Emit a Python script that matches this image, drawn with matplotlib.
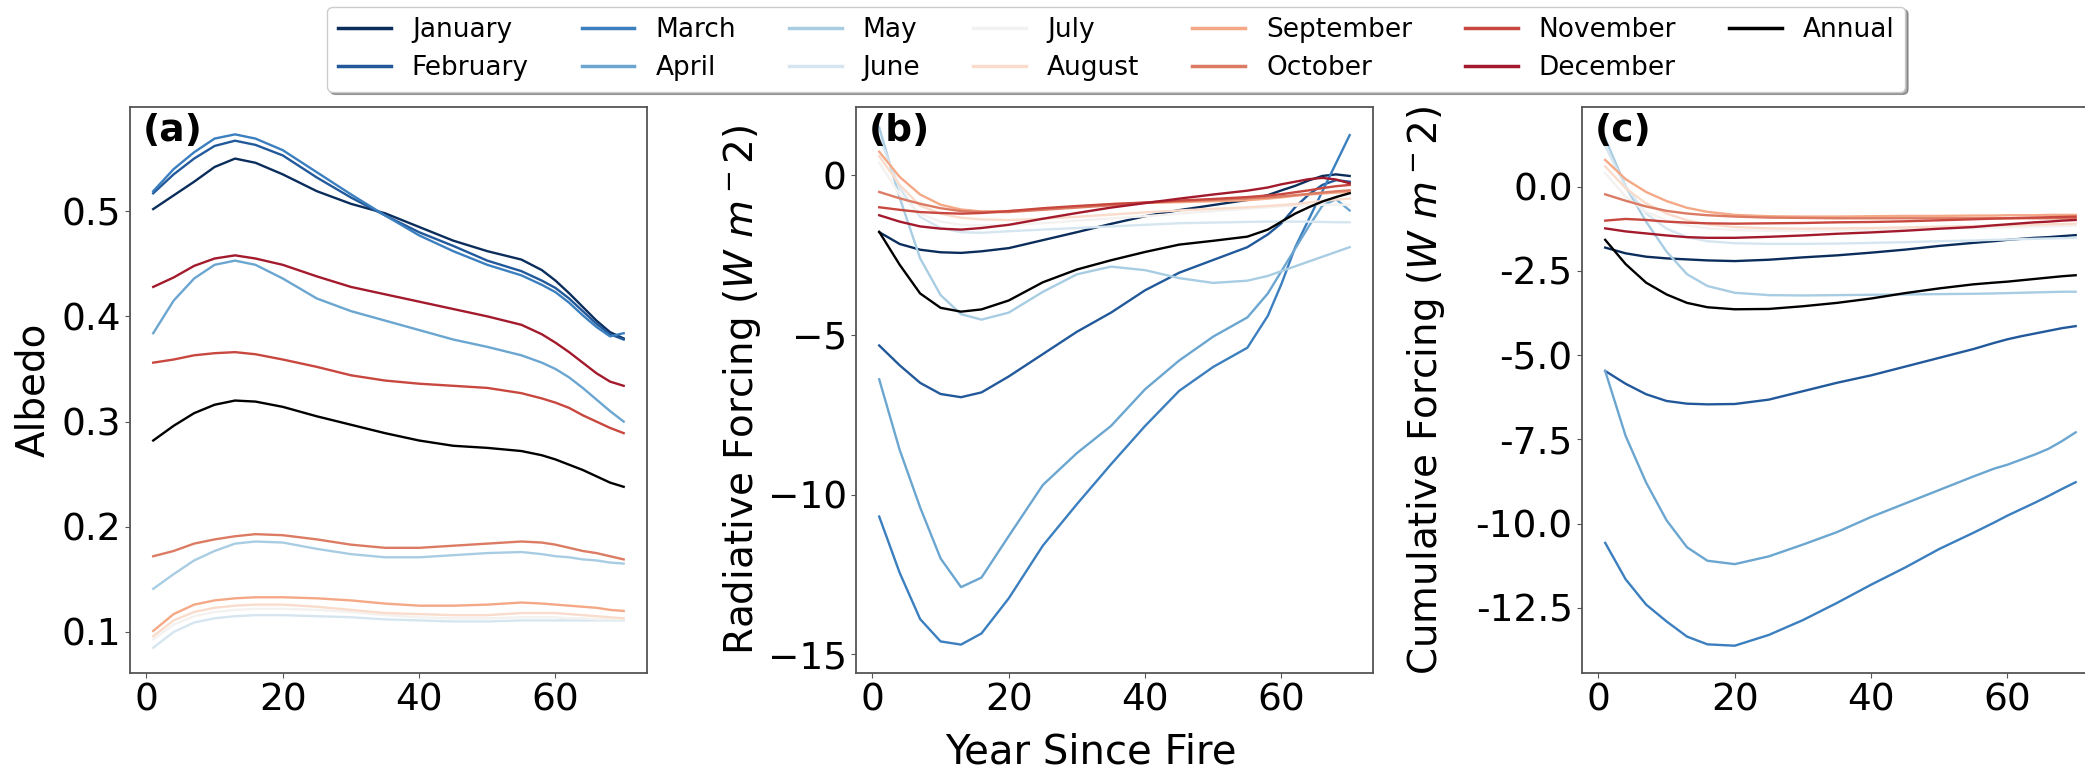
import numpy as np
import matplotlib.pyplot as plt

# years since fire (sample points)
years = [1, 4, 7, 10, 13, 16, 20, 25, 30, 35, 40, 45, 50, 55, 58, 60, 62, 64, 66, 68, 70]

labels = ['January', 'February', 'March', 'April', 'May', 'June', 'July',
          'August', 'September', 'October', 'November', 'December', 'Annual']
colors = ['#0b2d5c', '#22599b', '#3b7fbf', '#6ba6d0', '#a8cde3', '#d5e6f0', '#f4f2f0',
          '#f9dccb', '#f4a886', '#dc7b63', '#c8473f', '#a31a2d', '#000000']

# (a) albedo
alb_jan = [0.502, 0.515, 0.528, 0.542, 0.550, 0.546, 0.535, 0.519, 0.507, 0.498, 0.485, 0.472, 0.462, 0.454, 0.444, 0.434, 0.422, 0.409, 0.396, 0.385, 0.379]
alb_feb = [0.517, 0.535, 0.550, 0.562, 0.567, 0.563, 0.553, 0.532, 0.513, 0.496, 0.480, 0.467, 0.453, 0.443, 0.434, 0.427, 0.417, 0.405, 0.393, 0.383, 0.378]
alb_mar = [0.519, 0.540, 0.556, 0.569, 0.573, 0.569, 0.558, 0.537, 0.516, 0.496, 0.477, 0.462, 0.449, 0.439, 0.430, 0.423, 0.413, 0.401, 0.390, 0.381, 0.384]
alb_apr = [0.384, 0.415, 0.436, 0.449, 0.453, 0.449, 0.436, 0.417, 0.405, 0.396, 0.387, 0.378, 0.371, 0.363, 0.356, 0.350, 0.342, 0.332, 0.321, 0.310, 0.300]
alb_may = [0.141, 0.155, 0.168, 0.177, 0.184, 0.186, 0.185, 0.179, 0.174, 0.171, 0.171, 0.173, 0.175, 0.176, 0.174, 0.172, 0.171, 0.169, 0.168, 0.166, 0.165]
alb_jun = [0.085, 0.100, 0.109, 0.113, 0.115, 0.116, 0.116, 0.115, 0.114, 0.112, 0.111, 0.110, 0.110, 0.111, 0.111, 0.111, 0.111, 0.111, 0.111, 0.111, 0.111]
alb_jul = [0.093, 0.107, 0.115, 0.119, 0.121, 0.122, 0.122, 0.121, 0.119, 0.116, 0.114, 0.113, 0.113, 0.114, 0.114, 0.114, 0.113, 0.113, 0.112, 0.112, 0.112]
alb_aug = [0.096, 0.111, 0.119, 0.123, 0.125, 0.126, 0.126, 0.124, 0.121, 0.118, 0.117, 0.116, 0.116, 0.118, 0.118, 0.118, 0.117, 0.116, 0.115, 0.114, 0.113]
alb_sep = [0.101, 0.117, 0.126, 0.130, 0.132, 0.133, 0.133, 0.132, 0.130, 0.127, 0.125, 0.125, 0.126, 0.128, 0.127, 0.126, 0.125, 0.124, 0.123, 0.121, 0.120]
alb_oct = [0.172, 0.177, 0.184, 0.188, 0.191, 0.193, 0.192, 0.188, 0.183, 0.180, 0.180, 0.182, 0.184, 0.186, 0.185, 0.183, 0.180, 0.177, 0.175, 0.172, 0.169]
alb_nov = [0.356, 0.359, 0.363, 0.365, 0.366, 0.364, 0.359, 0.352, 0.344, 0.339, 0.336, 0.334, 0.332, 0.327, 0.322, 0.318, 0.313, 0.306, 0.300, 0.294, 0.289]
alb_dec = [0.428, 0.437, 0.448, 0.455, 0.458, 0.455, 0.449, 0.438, 0.428, 0.421, 0.414, 0.407, 0.400, 0.392, 0.383, 0.375, 0.366, 0.356, 0.346, 0.338, 0.334]
alb_ann = [0.282, 0.296, 0.308, 0.316, 0.320, 0.319, 0.314, 0.305, 0.297, 0.289, 0.282, 0.277, 0.275, 0.272, 0.268, 0.264, 0.259, 0.254, 0.248, 0.242, 0.238]

# (b) radiative forcing
rf_jan = [-1.78, -2.15, -2.33, -2.41, -2.43, -2.38, -2.28, -2.03, -1.78, -1.52, -1.28, -1.09, -0.93, -0.77, -0.62, -0.47, -0.33, -0.16, -0.02, 0.03, -0.02]
rf_feb = [-5.33, -5.95, -6.50, -6.85, -6.95, -6.80, -6.30, -5.60, -4.90, -4.30, -3.60, -3.05, -2.65, -2.25, -1.85, -1.50, -1.00, -0.60, -0.30, -0.15, -0.20]
rf_mar = [-10.69, -12.45, -13.90, -14.60, -14.70, -14.35, -13.25, -11.60, -10.30, -9.05, -7.85, -6.75, -6.00, -5.40, -4.40, -3.40, -2.26, -1.38, -0.50, 0.38, 1.26]
rf_apr = [-6.39, -8.60, -10.40, -12.00, -12.90, -12.60, -11.30, -9.70, -8.70, -7.85, -6.70, -5.80, -5.05, -4.45, -3.70, -3.00, -2.30, -1.60, -0.95, -0.75, -1.10]
rf_may = [1.50, -0.70, -2.60, -3.75, -4.35, -4.52, -4.30, -3.65, -3.10, -2.86, -2.97, -3.22, -3.37, -3.30, -3.15, -3.00, -2.85, -2.70, -2.55, -2.40, -2.25]
rf_jun = [1.20, -0.40, -1.30, -1.65, -1.78, -1.80, -1.75, -1.70, -1.65, -1.60, -1.55, -1.50, -1.48, -1.46, -1.45, -1.45, -1.45, -1.45, -1.46, -1.47, -1.47]
rf_jul = [0.40, -0.60, -1.20, -1.45, -1.55, -1.57, -1.55, -1.50, -1.42, -1.35, -1.28, -1.20, -1.12, -1.05, -1.00, -0.97, -0.95, -0.93, -0.92, -0.92, -0.92]
rf_aug = [0.60, -0.30, -0.95, -1.20, -1.33, -1.38, -1.40, -1.36, -1.30, -1.23, -1.16, -1.10, -1.05, -1.00, -0.96, -0.93, -0.90, -0.85, -0.80, -0.76, -0.73]
rf_sep = [0.74, -0.05, -0.60, -0.92, -1.07, -1.13, -1.12, -1.06, -0.99, -0.90, -0.86, -0.84, -0.81, -0.78, -0.73, -0.69, -0.64, -0.60, -0.57, -0.54, -0.52]
rf_oct = [-0.52, -0.72, -0.89, -1.03, -1.12, -1.15, -1.15, -1.08, -1.01, -0.94, -0.86, -0.81, -0.77, -0.72, -0.69, -0.66, -0.62, -0.58, -0.54, -0.50, -0.47]
rf_nov = [-1.00, -1.08, -1.15, -1.18, -1.20, -1.18, -1.12, -1.03, -0.96, -0.90, -0.85, -0.79, -0.74, -0.68, -0.63, -0.59, -0.53, -0.47, -0.40, -0.34, -0.30]
rf_dec = [-1.25, -1.45, -1.60, -1.67, -1.70, -1.65, -1.55, -1.36, -1.18, -1.01, -0.87, -0.73, -0.60, -0.48, -0.38, -0.28, -0.20, -0.12, -0.08, -0.13, -0.25]
rf_ann = [-1.77, -2.80, -3.70, -4.15, -4.27, -4.20, -3.92, -3.35, -2.95, -2.66, -2.40, -2.17, -2.05, -1.92, -1.70, -1.45, -1.20, -1.00, -0.82, -0.68, -0.56]

# (c) cumulative forcing
cf_jan = [-1.81, -1.98, -2.08, -2.13, -2.16, -2.19, -2.21, -2.17, -2.10, -2.04, -1.96, -1.87, -1.76, -1.67, -1.62, -1.58, -1.55, -1.52, -1.50, -1.47, -1.44]
cf_feb = [-5.47, -5.85, -6.16, -6.36, -6.44, -6.46, -6.45, -6.32, -6.07, -5.82, -5.60, -5.34, -5.08, -4.82, -4.64, -4.53, -4.44, -4.36, -4.28, -4.20, -4.14]
cf_mar = [-10.57, -11.65, -12.40, -12.90, -13.35, -13.58, -13.62, -13.30, -12.86, -12.35, -11.81, -11.30, -10.75, -10.27, -9.97, -9.76, -9.57, -9.38, -9.18, -8.97, -8.77]
cf_apr = [-5.47, -7.40, -8.78, -9.90, -10.70, -11.10, -11.20, -10.97, -10.62, -10.25, -9.80, -9.40, -9.00, -8.60, -8.37, -8.25, -8.10, -7.95, -7.78, -7.55, -7.29]
cf_may = [1.43, 0.00, -1.04, -1.93, -2.60, -2.95, -3.15, -3.22, -3.23, -3.22, -3.21, -3.20, -3.19, -3.18, -3.17, -3.16, -3.15, -3.14, -3.13, -3.12, -3.12]
cf_jun = [1.20, 0.00, -0.80, -1.25, -1.50, -1.62, -1.68, -1.70, -1.70, -1.69, -1.67, -1.65, -1.62, -1.60, -1.58, -1.57, -1.56, -1.55, -1.54, -1.53, -1.52]
cf_jul = [0.40, -0.30, -0.75, -1.00, -1.15, -1.24, -1.29, -1.31, -1.31, -1.30, -1.29, -1.27, -1.25, -1.23, -1.22, -1.21, -1.20, -1.19, -1.18, -1.17, -1.16]
cf_aug = [0.60, -0.05, -0.50, -0.80, -1.00, -1.12, -1.20, -1.24, -1.25, -1.24, -1.23, -1.21, -1.19, -1.17, -1.16, -1.15, -1.14, -1.13, -1.12, -1.11, -1.10]
cf_sep = [0.79, 0.22, -0.16, -0.43, -0.63, -0.75, -0.84, -0.88, -0.89, -0.89, -0.88, -0.87, -0.87, -0.86, -0.86, -0.85, -0.85, -0.85, -0.84, -0.84, -0.84]
cf_oct = [-0.23, -0.42, -0.59, -0.72, -0.80, -0.85, -0.89, -0.92, -0.93, -0.94, -0.94, -0.94, -0.94, -0.94, -0.94, -0.94, -0.94, -0.94, -0.94, -0.94, -0.93]
cf_nov = [-1.01, -0.96, -0.99, -1.04, -1.07, -1.09, -1.10, -1.09, -1.08, -1.06, -1.05, -1.03, -1.00, -0.97, -0.95, -0.94, -0.93, -0.92, -0.91, -0.90, -0.89]
cf_dec = [-1.24, -1.33, -1.39, -1.45, -1.50, -1.52, -1.52, -1.49, -1.45, -1.40, -1.36, -1.31, -1.25, -1.20, -1.15, -1.12, -1.09, -1.06, -1.04, -1.01, -0.99]
cf_ann = [-1.58, -2.30, -2.85, -3.20, -3.45, -3.58, -3.64, -3.63, -3.55, -3.45, -3.32, -3.16, -3.02, -2.90, -2.85, -2.82, -2.78, -2.74, -2.70, -2.66, -2.63]

albedo = [alb_jan, alb_feb, alb_mar, alb_apr, alb_may, alb_jun, alb_jul,
          alb_aug, alb_sep, alb_oct, alb_nov, alb_dec, alb_ann]
forcing = [rf_jan, rf_feb, rf_mar, rf_apr, rf_may, rf_jun, rf_jul,
           rf_aug, rf_sep, rf_oct, rf_nov, rf_dec, rf_ann]
cumulative = [cf_jan, cf_feb, cf_mar, cf_apr, cf_may, cf_jun, cf_jul,
              cf_aug, cf_sep, cf_oct, cf_nov, cf_dec, cf_ann]

fig = plt.figure(figsize=(20.85, 7.75), dpi=100)
bottom, height, width = 0.1316, 0.7303, 0.2482
ax_a = fig.add_axes([0.0622, bottom, width, height])
ax_b = fig.add_axes([0.4104, bottom, width, height])
ax_c = fig.add_axes([0.7586, bottom, width, height])

# axes, data, panel tag, y label, y limits, y label x position (axes coords)
panels = [(ax_a, albedo, '(a)', 'Albedo', (0.061, 0.599), -0.15),
          (ax_b, forcing, '(b)', r'Radiative Forcing ($W\ m^-2$)', (-15.59, 2.14), -0.18),
          (ax_c, cumulative, '(c)', r'Cumulative Forcing ($W\ m^-2$)', (-14.43, 2.36), -0.26)]

for ax, data, tag, ylab, ylim, xlab_pos in panels:
    for vals, lab, col in zip(data, labels, colors):
        ax.plot(years, vals, color=col, lw=1.7, label=lab)
    ax.set_xlim(-2.45, 73.45)
    ax.set_ylim(*ylim)
    ax.set_xticks([0, 20, 40, 60])
    ax.set_ylabel(ylab, fontsize=28)
    ax.yaxis.set_label_coords(xlab_pos, 0.5)
    ax.tick_params(labelsize=27, direction='out', length=3.5, pad=3,
                   color='#555555')
    for sp in ax.spines.values():
        sp.set_color('#555555')
        sp.set_linewidth(1.3)
    ax.text(0.025, 0.99, tag, transform=ax.transAxes, ha='left', va='top',
            fontsize=27, fontweight='bold')

ax_a.set_yticks([0.1, 0.2, 0.3, 0.4, 0.5])
ax_b.set_yticks([0, -5, -10, -15])
ax_c.set_yticks([0.0, -2.5, -5.0, -7.5, -10.0, -12.5])
ax_c.yaxis.set_major_formatter(plt.FormatStrFormatter('%.1f'))
ax_b.set_xlabel('Year Since Fire', fontsize=29)
ax_b.xaxis.set_label_coords(0.455, -0.105)

handles, labs = ax_a.get_legend_handles_labels()
leg = fig.legend(handles, labs, loc='upper center', bbox_to_anchor=(0.5354, 1.0),
                 ncol=7, fontsize=19, shadow=True, fancybox=True,
                 borderaxespad=0.25, labelspacing=0.45)
for h in leg.get_lines():
    h.set_linewidth(2.5)

fig.savefig('out.png', dpi=100)
